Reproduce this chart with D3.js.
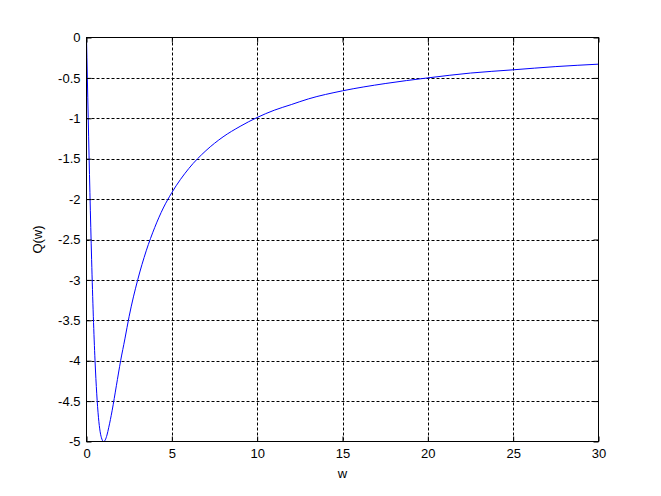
<!DOCTYPE html>
<html><head><meta charset="utf-8">
<script src="https://cdn.jsdelivr.net/npm/d3@7"></script>
<style>body{margin:0;background:#fff}svg{display:block}text{font-family:"Liberation Sans",Arial,sans-serif;font-size:13px;fill:#000}</style>
</head><body><svg id="c" width="661" height="496"></svg>
<script>
const wValues = [0, 0.05, 0.1, 0.2, 0.3, 0.4, 0.5, 0.6, 0.7, 0.8, 0.9, 1.0, 1.1, 1.2, 1.3, 1.5, 1.75, 2, 2.25, 2.5, 3, 3.5, 4, 4.5, 5, 6, 7, 8, 9, 10, 11, 12, 13, 15, 17.5, 20, 22.5, 25, 27.5, 30];
const qValues = [0, -0.5, -0.99, -1.92, -2.75, -3.45, -4.0, -4.41, -4.70, -4.88, -4.97, -5.0, -4.98, -4.92, -4.83, -4.62, -4.31, -4.0, -3.73, -3.45, -3.0, -2.64, -2.35, -2.11, -1.92, -1.62, -1.40, -1.23, -1.10, -0.99, -0.90, -0.83, -0.76, -0.66, -0.57, -0.50, -0.44, -0.40, -0.36, -0.33];
const xTicks = [0, 5, 10, 15, 20, 25, 30];
const yTicks = [0, -0.5, -1, -1.5, -2, -2.5, -3, -3.5, -4, -4.5, -5];
const xLabel = "w", yLabel = "Q(w)";

const svg = d3.select("#c");
const L = 86.5, R = 598.5, T = 37.5, B = 441.5;
const x = d3.scaleLinear().domain([0, 30]).range([L, R]);
const y = d3.scaleLinear().domain([-5, 0]).range([B, T]);

const g = svg.append("g");
// grid
g.selectAll(".gx").data(xTicks.slice(1, -1)).enter().append("line")
  .attr("x1", d => Math.round(x(d)) + 0.5).attr("x2", d => Math.round(x(d)) + 0.5)
  .attr("y1", T).attr("y2", B).attr("stroke", "#000").attr("stroke-width", 1).attr("stroke-dasharray", "3,2");
g.selectAll(".gy").data(yTicks.slice(1, -1)).enter().append("line")
  .attr("y1", d => Math.round(y(d)) + 0.5).attr("y2", d => Math.round(y(d)) + 0.5)
  .attr("x1", L).attr("x2", R).attr("stroke", "#000").attr("stroke-width", 1).attr("stroke-dasharray", "3,2");

// curve
const pts = wValues.map((w, i) => [w, qValues[i]]);
svg.append("clipPath").attr("id", "clip").append("rect").attr("x", L).attr("y", T - 1).attr("width", R - L).attr("height", B - T + 2);
svg.append("path").datum(pts).attr("clip-path", "url(#clip)")
  .attr("d", d3.line().x(d => x(d[0])).y(d => y(d[1])).curve(d3.curveMonotoneX))
  .attr("fill", "none").attr("stroke", "#0000ff").attr("stroke-width", 1);

// axes
const xAxis = d3.axisBottom(x).tickValues(xTicks).tickSize(-5).tickPadding(7).tickFormat(d3.format("d"));
const gx = svg.append("g").attr("transform", `translate(0,${B})`).call(xAxis);
const yAxis = d3.axisLeft(y).tickValues(yTicks).tickSize(-5).tickPadding(6).tickFormat(d => d === 0 ? "0" : String(d));
const gy = svg.append("g").attr("transform", `translate(${L},0)`).call(yAxis);
[gx, gy].forEach(a => { a.select(".domain").remove(); a.selectAll("line").attr("stroke", "#000"); a.selectAll("text").style("font-family", '"Liberation Sans",Arial,sans-serif').style("font-size", "13px").attr("fill", "#000"); });
// top / right ticks
svg.append("g").attr("transform", `translate(0,${T})`).call(d3.axisTop(x).tickValues(xTicks).tickSize(-5).tickFormat("")).select(".domain").remove();
svg.append("g").attr("transform", `translate(${R},0)`).call(d3.axisRight(y).tickValues(yTicks).tickSize(-5).tickFormat("")).select(".domain").remove();
svg.append("rect").attr("x", L).attr("y", T).attr("width", R - L).attr("height", B - T).attr("fill", "none").attr("stroke", "#000").attr("stroke-width", 1);

svg.append("text").attr("x", (L + R) / 2).attr("y", 478).attr("text-anchor", "middle").text(xLabel);
svg.append("text").attr("transform", `translate(42,${(T + B) / 2}) rotate(-90)`).attr("text-anchor", "middle").text(yLabel);
</script></body></html>
